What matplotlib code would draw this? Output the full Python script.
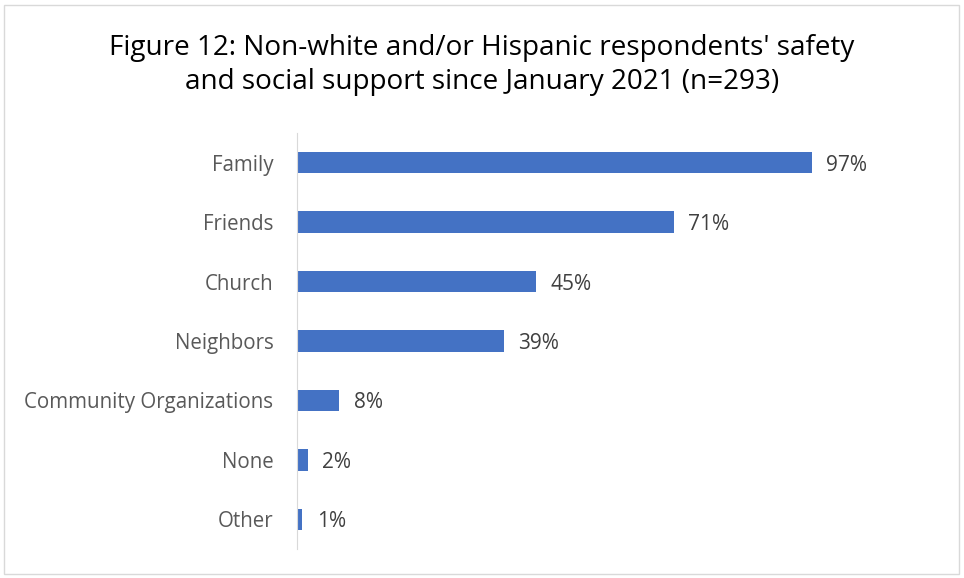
import matplotlib
matplotlib.use("Agg")
import matplotlib.pyplot as plt
from matplotlib.patches import Rectangle

categories = ["Family", "Friends", "Church", "Neighbors", "Community Organizations", "None", "Other"]
values = [97, 71, 45, 39, 8, 2, 1]
title = "Figure 12: Non-white and/or Hispanic respondents' safety\nand social support since January 2021 (n=293)"

plt.rcParams['font.family'] = ['Open Sans', 'DejaVu Sans']

W, H = 964, 578
fig = plt.figure(figsize=(W/100, H/100), dpi=100)
fig.patches.append(Rectangle((4/W, 4/H), (W-9)/W, (H-9)/H, transform=fig.transFigure,
                             fill=False, edgecolor='#D9D9D9', linewidth=1))

ax = fig.add_axes([297/W, 1-549/H, (828-297)/W, (549-133)/H])
y = list(range(len(categories)))
ax.barh(y, values, height=0.36, color='#4472C4')
ax.set_ylim(len(categories)-0.5, -0.5)
ax.set_xlim(0, 100)
ax.set_yticks(y)
ax.set_yticklabels(categories, fontsize=14.8, color='#595959')
ax.tick_params(axis='y', length=0, pad=17)
ax.set_xticks([])
for s in ['top', 'right', 'bottom']:
    ax.spines[s].set_visible(False)
ax.spines['left'].set_color('#D9D9D9')
for yi, v in zip(y, values):
    ax.text(v + 2.7, yi, f"{v}%", va='center_baseline', ha='left', fontsize=15, color='#404040')

fig.text(0.5, 1-65/H, title, ha='center', va='center', fontsize=20.1, color='#000000', linespacing=1.25)

fig.savefig("out.png", dpi=100)
